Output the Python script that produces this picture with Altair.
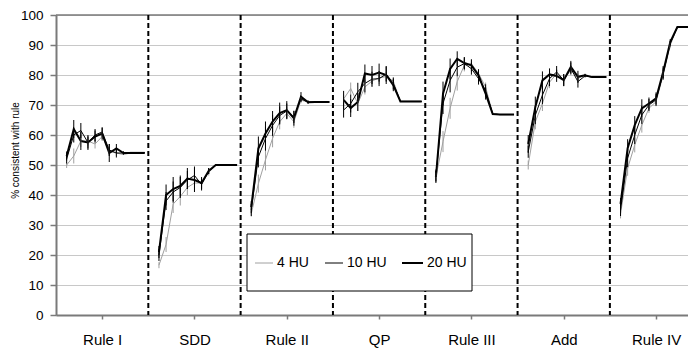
import json
import altair as alt
import pandas as pd

# ---------------- data ----------------
categories = ["Rule I", "SDD", "Rule II", "QP", "Rule III", "Add", "Rule IV"]
series = ["4 HU", "10 HU", "20 HU"]
series_colors = ["#a0a0a0", "#000000", "#000000"]
series_widths = [1, 1, 2]
points_per_block = 12
slots_per_block = 13

hu4 = [
    50, 53, 58, 58, 57, 59.5, 54.5, 54, 53.5, 54, 54, 54,            # Rule I
    16.6, 23.5, 37, 39.5, 42.5, 44, 44, 47.5, 50, 50, 50, 50,         # SDD
    33.8, 43.8, 51.7, 58.9, 64.4, 67.2, 64.4, 71.6, 71, 71, 71, 71,   # Rule II
    72, 75.5, 70.5, 76, 78, 79, 79.5, 78, 71.2, 71.2, 71.2, 71.2,     # QP
    46, 57.8, 68.9, 77.8, 83.2, 83.8, 80.5, 76, 67, 66.8, 66.8, 66.8,  # Rule III
    50, 64.4, 70.5, 77.6, 80.4, 78.3, 81.6, 78.9, 79.9, 79.3, 79.3, 79.3,  # Add
    33.7, 48.9, 56.7, 63.3, 68.9, 71.1, 79.9, 89.9, 96, 96, 96, 96,   # Rule IV
]
hu10 = [
    52, 60, 61.5, 57.5, 60, 61, 55, 54, 54, 54.2, 54.2, 54.2,
    20, 38, 41, 42.5, 45, 46.5, 43.5, 48, 50, 50, 50, 50,
    35, 52.7, 58.8, 63.2, 66.5, 68, 66, 72, 71, 71, 71, 71,
    68.3, 70.5, 74.4, 77.2, 78.6, 78.8, 80.3, 77.2, 71.2, 71.2, 71.2, 71.2,
    46.5, 70.5, 78.2, 82.6, 83.8, 82.1, 78.8, 74.9, 67, 66.8, 66.8, 66.8,
    54.4, 66.6, 73.3, 78.8, 81, 78.3, 82.2, 77.8, 79.7, 79.3, 79.3, 79.3,
    35, 52.3, 60, 66.7, 70, 71.7, 80.5, 90.5, 96, 96, 96, 96,
]
hu20 = [
    53, 62, 58, 57.5, 59.5, 60.5, 54, 55.5, 54, 54, 54, 54,
    21, 40, 42, 43, 45.5, 45, 44, 48, 50, 50, 50, 50,
    36, 55.5, 60.5, 64.5, 67.3, 68.3, 65.6, 72.8, 70.9, 71, 71, 71,
    71.7, 69, 71, 80.5, 80, 80.8, 80, 76.6, 71.2, 71.2, 71.2, 71.2,
    46, 73.8, 82, 85.4, 84, 83.2, 79.9, 73.8, 67, 66.8, 66.8, 66.8,
    57, 69.3, 78.2, 80.2, 79.7, 78.3, 82.7, 79.4, 79.9, 79.3, 79.3, 79.3,
    37, 55.6, 63.3, 68.9, 70.5, 72.2, 81, 91, 96, 96, 96, 96,
]

err4 = [
    1, 2.5, 2, 1.5, 1.5, 1.5, 1.5, 1, 0, 0, 0, 0,
    1, 2.5, 3, 3, 2.5, 2.5, 1.5, 1, 0, 0, 0, 0,
    1, 3, 3.5, 3, 2.5, 2, 2, 1, 0, 0, 0, 0,
    1.5, 2, 2.5, 2.5, 2, 2, 1.5, 1, 0, 0, 0, 0,
    1.5, 3.5, 3.5, 3, 2, 1.5, 1.5, 1.5, 0, 0, 0, 0,
    1.5, 2.5, 2.5, 2, 1.5, 1.5, 1.5, 1.5, 0, 0, 0, 0,
    1.5, 2.5, 2.5, 2.5, 1.5, 1.5, 1.5, 1, 0, 0, 0, 0,
]
err10 = [
    1.5, 2.5, 2.5, 2, 2, 1.5, 2, 1.5, 0.5, 0, 0, 0,
    2, 3, 3.5, 3.5, 3, 3, 2, 1, 0, 0, 0, 0,
    2, 3.5, 4, 3.5, 3, 2.5, 2, 1, 0.5, 0, 0, 0,
    2.5, 3, 3, 3, 2.5, 2.5, 2.5, 2, 0, 0, 0, 0,
    2, 3.5, 4, 3, 2, 2, 2, 2, 0, 0, 0, 0,
    2, 3, 3, 2.5, 2, 2, 2, 2, 0.5, 0, 0, 0,
    2, 3, 3, 3, 2, 2, 2, 1, 0, 0, 0, 0,
]
err20 = [
    1.5, 3, 3, 2.5, 2, 2, 3, 1.5, 0.5, 0, 0, 0,
    2, 3.5, 4, 3.5, 3.5, 4, 2, 1, 0, 0, 0, 0,
    2, 4, 4, 3.5, 3.5, 3, 2.5, 1.5, 0.5, 0, 0, 0,
    3, 3, 3, 3, 3, 3, 3, 2, 0, 0, 0, 0,
    2, 4, 3.5, 2.5, 2, 2, 2, 2, 0, 0, 0, 0,
    3, 3.5, 3, 2, 2, 2, 2, 2, 0.5, 0, 0, 0,
    2, 3, 3, 3, 2, 2, 2, 1, 0, 0, 0, 0,
]

y_ticks = list(range(0, 101, 10))

# ---------------- tables ----------------
rows = []
for s, vals, errs in zip(series, [hu4, hu10, hu20], [err4, err10, err20]):
    for k, (v, e) in enumerate(zip(vals, errs)):
        seg, j = divmod(k, points_per_block)
        rows.append(dict(series=s, block=categories[seg],
                         x=seg * slots_per_block + j + 1.5,
                         y=v, lo=v - e, hi=v + e))
df = pd.DataFrame(rows)

n_blocks = len(categories)
bounds = pd.DataFrame({"x": [slots_per_block * i for i in range(1, n_blocks + 1)]})
mids = [slots_per_block * i + slots_per_block / 2 for i in range(n_blocks)]
top = pd.DataFrame({"y": [100]})

x_domain = [0, 89]
label_expr = f"{json.dumps(categories)}[floor(datum.value / {slots_per_block})]"

x_axis = alt.Axis(values=mids, labelExpr=label_expr, title=None, grid=False,
                  tickSize=4, labelPadding=13, labelFontSize=15,
                  domainColor="#7a7a7a", domainWidth=2, tickColor="#7a7a7a",
                  tickWidth=1.5, labelColor="black", labelFont="Liberation Sans")
y_axis = alt.Axis(values=y_ticks, title="% consistent with rule", grid=True,
                  gridColor="#c8c8c8", gridWidth=1, tickSize=6, labelPadding=7,
                  labelFontSize=13.5, labelColor="black", labelFont="Liberation Sans",
                  domainColor="#7a7a7a", domainWidth=2, tickColor="#7a7a7a",
                  tickWidth=1.5, titleFontSize=10, titleFontWeight="normal",
                  titleFont="Liberation Sans", titleColor="black",
                  titleX=-41, titleY=135, titleBaseline="middle")

xs = alt.Scale(domain=x_domain, nice=False, zero=False)
ys = alt.Scale(domain=[0, 100], nice=False, zero=False)

layers = []

# top border of plot area
layers.append(alt.Chart(top).mark_rule(color="#7a7a7a", strokeWidth=1.5).encode(
    y=alt.Y("y:Q", scale=ys, axis=y_axis)))

for s, c, w in zip(series, series_colors, series_widths):
    sub = df[df.series == s]
    layers.append(alt.Chart(sub).mark_line(color=c, strokeWidth=w, clip=True).encode(
        x=alt.X("x:Q", scale=xs, axis=x_axis),
        y=alt.Y("y:Q", scale=ys, axis=y_axis),
        detail="block:N"))
for s, c in zip(series, series_colors):
    sub = df[(df.series == s) & (df.hi > df.lo)]
    layers.append(alt.Chart(sub).mark_rule(color=c, strokeWidth=1, clip=True).encode(
        x=alt.X("x:Q", scale=xs, axis=x_axis),
        y=alt.Y("lo:Q", scale=ys, axis=y_axis),
        y2="hi:Q"))

# dashed block separators
layers.append(alt.Chart(bounds).mark_rule(color="black", strokeWidth=2,
                                          strokeDash=[5, 3], clip=True).encode(
    x=alt.X("x:Q", scale=xs, axis=x_axis)))

# legend box
one = pd.DataFrame({"a": [0]})
layers.append(alt.Chart(one).mark_rect(fill="white", stroke="black", strokeWidth=1).encode(
    x=alt.value(191), x2=alt.value(416), y=alt.value(219), y2=alt.value(276)))
leg_line_x = [199, 269, 346]
leg_line_len = [18, 18, 21]
for s, c, w, lx, ll in zip(series, series_colors, series_widths, leg_line_x, leg_line_len):
    layers.append(alt.Chart(one).mark_rule(color=c, strokeWidth=w).encode(
        x=alt.value(lx), x2=alt.value(lx + ll), y=alt.value(248)))
    layers.append(alt.Chart(one).mark_text(align="left", baseline="middle", fontSize=14,
                                           font="Liberation Sans", color="black",
                                           text=s).encode(
        x=alt.value(lx + ll + 4), y=alt.value(248)))

chart = alt.layer(*layers).properties(
    width=632, height=300, autosize="none",
    padding={"left": 48, "top": 7, "right": 0, "bottom": 35},
).configure_view(stroke=None).configure(background="white")

chart.save("out.html", embed_options={"renderer": "svg", "actions": False})
